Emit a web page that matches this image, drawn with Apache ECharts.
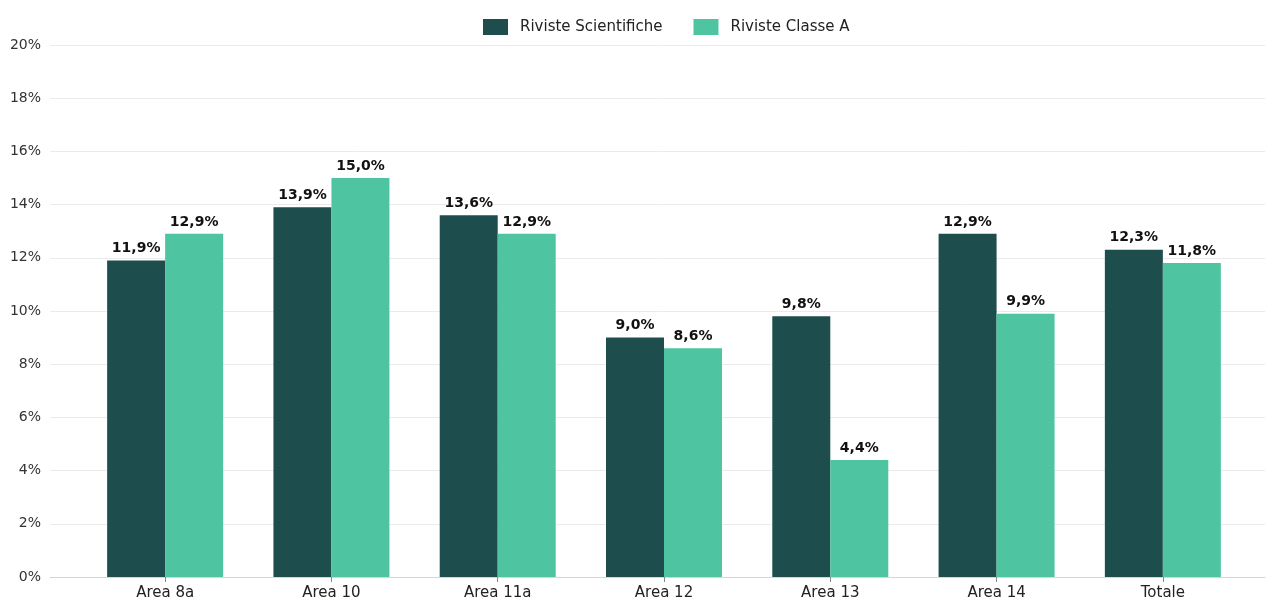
<!DOCTYPE html>
<html>
<head>
<meta charset="utf-8">
<script src="https://cdn.jsdelivr.net/npm/echarts@6/dist/echarts.min.js"></script>
<style>
  html, body { margin: 0; padding: 0; background: #ffffff; }
  #chart { width: 1266px; height: 597px; }
</style>
</head>
<body>
<div id="chart"></div>
<script>
// Share of publications by area (percent)
const categories = ['Area 8a', 'Area 10', 'Area 11a', 'Area 12', 'Area 13', 'Area 14', 'Totale'];
const seriesNames = ['Riviste Scientifiche', 'Riviste Classe A'];
const rivisteScientifiche = [11.9, 13.9, 13.6, 9.0, 9.8, 12.9, 12.3];
const rivisteClasseA = [12.9, 15.0, 12.9, 8.6, 4.4, 9.9, 11.8];
const yTicks = { min: 0, max: 20, interval: 2 };

const FONT = 'DejaVu Sans';
const fmtPct = v => v.toFixed(1).replace('.', ',') + '%';

const chart = echarts.init(document.getElementById('chart'), null, { renderer: 'canvas' });

const labelStyle = {
  show: true,
  position: 'top',
  distance: 5,
  fontFamily: FONT,
  fontWeight: 'bold',
  fontSize: 14,
  color: '#111111',
  formatter: p => fmtPct(p.value)
};

chart.setOption({
  animation: false,
  textStyle: { fontFamily: FONT },
  legend: {
    top: 14,
    left: 478,
    icon: 'rect',
    itemWidth: 25,
    itemHeight: 16,
    itemGap: 31,
    textStyle: { fontFamily: FONT, fontSize: 15, color: '#222222', padding: [0, 0, 0, 7] },
    data: seriesNames
  },
  grid: [
    // background grid: y labels and horizontal grid lines
    { left: 50, right: 1, top: 45, bottom: 20, containLabel: false, outerBoundsMode: 'none' },
    // bars
    { left: 82, right: 20, top: 45, bottom: 20, containLabel: false, outerBoundsMode: 'none' }
  ],
  xAxis: [
    {
      gridIndex: 0, type: 'category', data: categories,
      axisLine: { show: true, lineStyle: { color: '#d6d6d6', width: 1 } },
      axisTick: { show: false }, axisLabel: { show: false }
    },
    {
      gridIndex: 1, type: 'category', data: categories,
      axisLine: { show: false },
      axisTick: { show: true, alignWithLabel: true, length: 5, lineStyle: { color: '#888888' } },
      axisLabel: { fontFamily: FONT, fontSize: 15, color: '#222222', margin: 9 }
    }
  ],
  yAxis: [
    {
      gridIndex: 0, type: 'value',
      min: yTicks.min, max: yTicks.max, interval: yTicks.interval,
      axisLine: { show: false }, axisTick: { show: false },
      axisLabel: { fontFamily: FONT, fontSize: 14, color: '#333333', margin: 9, formatter: v => v + '%' },
      splitLine: { lineStyle: { color: '#ebebeb', width: 1 } }
    },
    {
      gridIndex: 1, type: 'value',
      min: yTicks.min, max: yTicks.max, interval: yTicks.interval,
      axisLine: { show: false }, axisTick: { show: false },
      axisLabel: { show: false }, splitLine: { show: false }
    }
  ],
  series: [
    {
      name: seriesNames[0], type: 'bar', xAxisIndex: 1, yAxisIndex: 1,
      data: rivisteScientifiche, barWidth: 58, barGap: '0%',
      itemStyle: { color: '#1e4d4e' }, label: labelStyle
    },
    {
      name: seriesNames[1], type: 'bar', xAxisIndex: 1, yAxisIndex: 1,
      data: rivisteClasseA, barWidth: 58, barGap: '0%',
      itemStyle: { color: '#4fc4a0' }, label: labelStyle
    }
  ]
});
</script>
</body>
</html>
